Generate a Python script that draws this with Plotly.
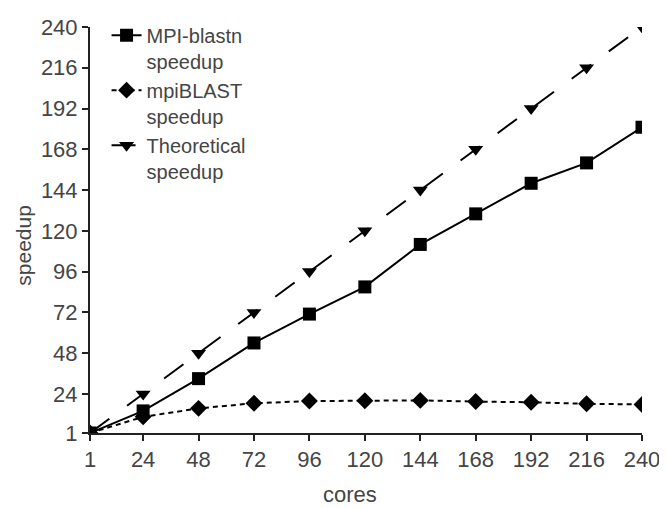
import plotly.graph_objects as go

cores = [1, 24, 48, 72, 96, 120, 144, 168, 192, 216, 240]
mpi_blastn = [1, 14, 33, 54, 71, 87, 112, 130, 148, 160, 181]
mpiblast = [1, 10.5, 15.5, 18.5, 19.8, 20, 20.2, 19.5, 19.1, 18.2, 17.8]
theoretical = [1, 24, 48, 72, 96, 120, 144, 168, 192, 216, 240]
tick_vals = [1, 24, 48, 72, 96, 120, 144, 168, 192, 216, 240]
tick_text = [str(v) for v in tick_vals]

names = ["MPI-blastn<br>speedup", "mpiBLAST<br>speedup", "Theoretical<br>speedup"]
x_title = "cores"
y_title = "speedup"

FONT = "Liberation Sans, Arial, sans-serif"
font_col = "#454545"

fig = go.Figure()
fig.add_trace(go.Scatter(x=cores, y=mpi_blastn, name=names[0], mode="lines+markers",
                         line=dict(color="black", width=2),
                         marker=dict(symbol="square", size=13, color="black")))
fig.add_trace(go.Scatter(x=cores, y=mpiblast, name=names[1], mode="lines+markers",
                         line=dict(color="black", width=2, dash="5px,4px"),
                         marker=dict(symbol="diamond", size=13, color="black")))
fig.add_trace(go.Scatter(x=cores, y=theoretical, name=names[2], mode="lines+markers",
                         line=dict(color="black", width=2, dash="24px,22px"),
                         marker=dict(symbol="triangle-down", size=13, color="black")))

axis_common = dict(
    showgrid=False, zeroline=False, showline=True, linecolor="#222", linewidth=2,
    ticks="outside", ticklen=6, tickwidth=2, tickcolor="#222",
    tickfont=dict(family=FONT, size=22, color=font_col),
    tickmode="array", tickvals=tick_vals, ticktext=tick_text,
)
fig.update_xaxes(range=[1, 240], **axis_common)
fig.update_yaxes(range=[1, 240], **axis_common)

fig.add_annotation(text=x_title, xref="paper", yref="paper", x=0.471, y=-0.151,
                   xanchor="center", yanchor="middle", showarrow=False,
                   font=dict(family=FONT, size=22, color=font_col))
fig.add_annotation(text=y_title, xref="paper", yref="paper", x=-0.122, y=0.463,
                   xanchor="center", yanchor="middle", showarrow=False, textangle=-90,
                   font=dict(family=FONT, size=21, color=font_col))

# page body has an 8px margin, so the figure is 8px smaller than the window
fig.update_layout(
    width=659, height=500,
    margin=dict(l=82, r=19, t=7, b=75),
    plot_bgcolor="white", paper_bgcolor="white",
    showlegend=True,
    legend=dict(x=0.03, y=1.028, xanchor="left", yanchor="top", valign="top",
                font=dict(family=FONT, size=20, color=font_col),
                bgcolor="rgba(0,0,0,0)", itemwidth=30, tracegroupgap=2),
)
fig.write_html("out.html")
